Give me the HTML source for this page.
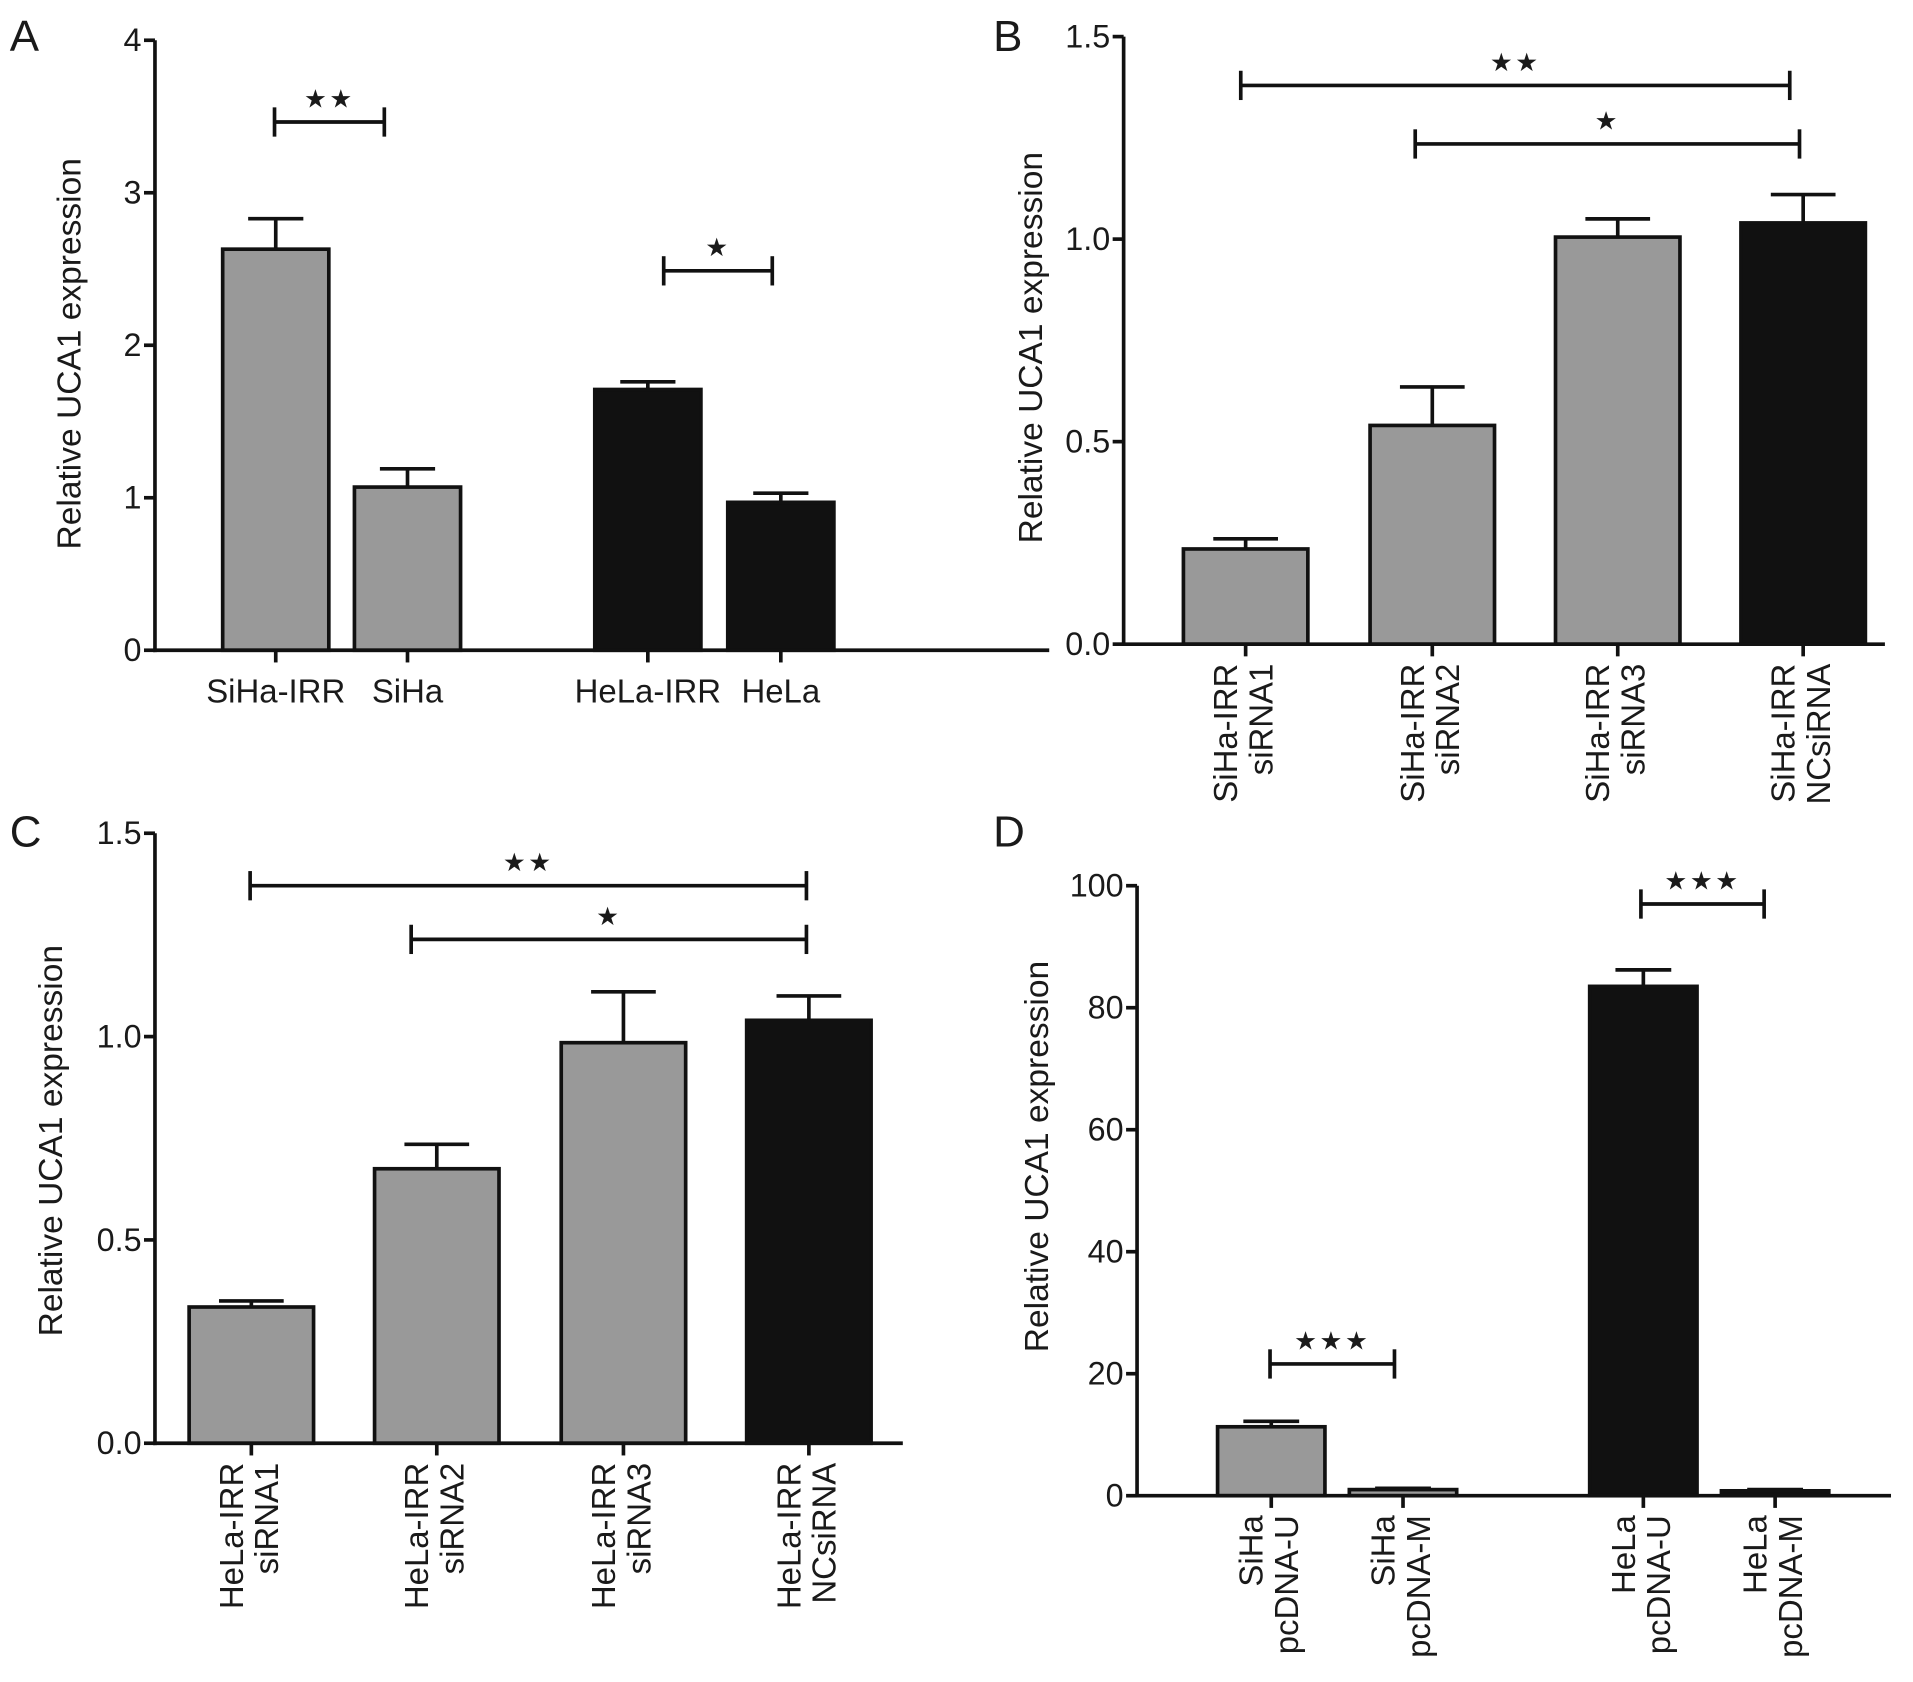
<!DOCTYPE html>
<html><head><meta charset="utf-8"><style>
html,body{margin:0;padding:0;background:#fff}
svg{display:block}
text{font-family:"Liberation Sans",Arial,sans-serif;fill:#1a1a1a}
</style></head><body>
<svg id="fig" width="1913" height="1682" viewBox="0 0 1568 1378.7" xmlns="http://www.w3.org/2000/svg"></svg>
<script>
// Panel A data
const aCats=["SiHa-IRR","SiHa","HeLa-IRR","HeLa"];
const aVals=[2.63,1.07,1.71,0.97];
const aErr=[0.20,0.12,0.05,0.06];
const aTicks=["0","1","2","3","4"];
// Panel B data
const bCats=[["SiHa-IRR","siRNA1"],["SiHa-IRR","siRNA2"],["SiHa-IRR","siRNA3"],["SiHa-IRR","NCsiRNA"]];
const bVals=[0.235,0.54,1.005,1.04];
const bErr=[0.025,0.095,0.045,0.07];
const bTicks=["0.0","0.5","1.0","1.5"];
// Panel C data
const cCats=[["HeLa-IRR","siRNA1"],["HeLa-IRR","siRNA2"],["HeLa-IRR","siRNA3"],["HeLa-IRR","NCsiRNA"]];
const cVals=[0.335,0.675,0.985,1.04];
const cErr=[0.015,0.06,0.125,0.06];
const cTicks=["0.0","0.5","1.0","1.5"];
// Panel D data
const dCats=[["SiHa","pcDNA-U"],["SiHa","pcDNA-M"],["HeLa","pcDNA-U"],["HeLa","pcDNA-M"]];
const dVals=[11.3,1.0,83.5,0.8];
const dErr=[0.9,0.2,2.7,0.2];
const dTicks=["0","20","40","60","80","100"];

const NS="http://www.w3.org/2000/svg";
const svg=document.getElementById('fig');
function el(tag,attrs,parent,txt){const e=document.createElementNS(NS,tag);for(const k in attrs)e.setAttribute(k,attrs[k]);if(txt!==undefined)e.textContent=txt;(parent||svg).appendChild(e);return e;}

function panel(cfg){
  const g=el('g',{});
  
  
  const y=v=>cfg.y0-(v/cfg.max)*(cfg.y0-cfg.yTop);
  const L=el('text',{x:cfg.letter[0],y:cfg.letter[1],'font-size':36},g,cfg.id.toUpperCase());
  
  
  cfg.vals.forEach((v,i)=>{
    const cx=cfg.centers[i],w=cfg.bw;
    const top=y(v+cfg.err[i]);
    const e1=el('line',{x1:cx,x2:cx,y1:y(v),y2:top,stroke:'#111','stroke-width':3},g);
    
    
    el('line',{x1:cx-w*0.26,x2:cx+w*0.26,y1:top,y2:top,stroke:'#111','stroke-width':3},g);
    const b=el('rect',{x:cx-w/2,y:y(v),width:w,height:cfg.y0-y(v),fill:cfg.colors[i],stroke:'#111','stroke-width':3},g);
    
    
    el('line',{x1:cx,x2:cx,y1:cfg.y0,y2:cfg.y0+10,stroke:'#111','stroke-width':3},g);
    const c=cfg.cats[i];
    if(typeof c==='string'){
      const t=el('text',{x:cx,y:cfg.y0+43,'font-size':27,'text-anchor':'middle'},g,c);
      
      
    }else{
      c.forEach((line,j)=>{
        const bx=cx-7+j*29, by=cfg.y0+16;
        const t=el('text',{x:0,y:0,'font-size':27,'text-anchor':'end',transform:`translate(${bx},${by}) rotate(-90)`},g,line);
        
        
      });
    }
  });
  const ya=el('line',{x1:cfg.ax,x2:cfg.ax,y1:cfg.yTop,y2:cfg.y0+1.5,stroke:'#111','stroke-width':3},g);
  
  
  const xa=el('line',{x1:cfg.ax-1.5,x2:cfg.xEnd,y1:cfg.y0,y2:cfg.y0,stroke:'#111','stroke-width':3},g);
  
  
  cfg.ticks.forEach((t,i)=>{
    const v=i*cfg.max/(cfg.ticks.length-1),yy=y(v);
    el('line',{x1:cfg.ax-9,x2:cfg.ax,y1:yy,y2:yy,stroke:'#111','stroke-width':3},g);
    const tt=el('text',{x:cfg.ax-11,y:yy+9,'font-size':26.5,'text-anchor':'end'},g,t);
    
    
  });
  const yl=el('text',{x:0,y:0,'font-size':27.5,'text-anchor':'middle',transform:`translate(${cfg.ylab[0]},${cfg.ylab[1]}) rotate(-90)`},g,'Relative UCA1 expression');
  
  
  cfg.sig.forEach((s,i)=>{
    const sg=el('g',{},g);
    
    
    el('line',{x1:s[0],x2:s[1],y1:s[2],y2:s[2],stroke:'#111','stroke-width':3},sg);
    el('line',{x1:s[0],x2:s[0],y1:s[2]-12,y2:s[2]+12,stroke:'#111','stroke-width':3},sg);
    el('line',{x1:s[1],x2:s[1],y1:s[2]-12,y2:s[2]+12,stroke:'#111','stroke-width':3},sg);
    el('text',{x:(s[0]+s[1])/2,y:s[2]-12,'font-size':21,'text-anchor':'middle','letter-spacing':2},sg,s[3]);
  });
}
const G='#999999',K='#111111';
panel({id:'a',letter:[8,42],ax:127,yTop:33,y0:533,max:4,xEnd:860,bw:87,centers:[226,334,531,640],
  vals:aVals,err:aErr,cats:aCats,ticks:aTicks,colors:[G,G,K,K],ylab:[66,290],
  sig:[[225,315,100,'★★'],[544,633,222,'★']]});
panel({id:'b',letter:[814,42],ax:921,yTop:30,y0:528,max:1.5,xEnd:1545,bw:102,centers:[1021,1174,1326,1478],
  vals:bVals,err:bErr,cats:bCats,ticks:bTicks,colors:[G,G,G,K],ylab:[854,285],
  sig:[[1017,1467,70,'★★'],[1160,1475,118,'★']]});
panel({id:'c',letter:[8,694],ax:127,yTop:683,y0:1183,max:1.5,xEnd:740,bw:102,centers:[206,358,511,663],
  vals:cVals,err:cErr,cats:cCats,ticks:cTicks,colors:[G,G,G,K],ylab:[51,935],
  sig:[[205,661,726,'★★'],[337,661,770,'★']]});
panel({id:'d',letter:[814,694],ax:932,yTop:726,y0:1226,max:100,xEnd:1550,bw:88,centers:[1042,1150,1347,1455],
  vals:dVals,err:dErr,cats:dCats,ticks:dTicks,colors:[G,G,K,K],ylab:[859,948],
  sig:[[1041,1143,1118,'★★★'],[1345,1446,741,'★★★']]});
</script>
</body></html>
